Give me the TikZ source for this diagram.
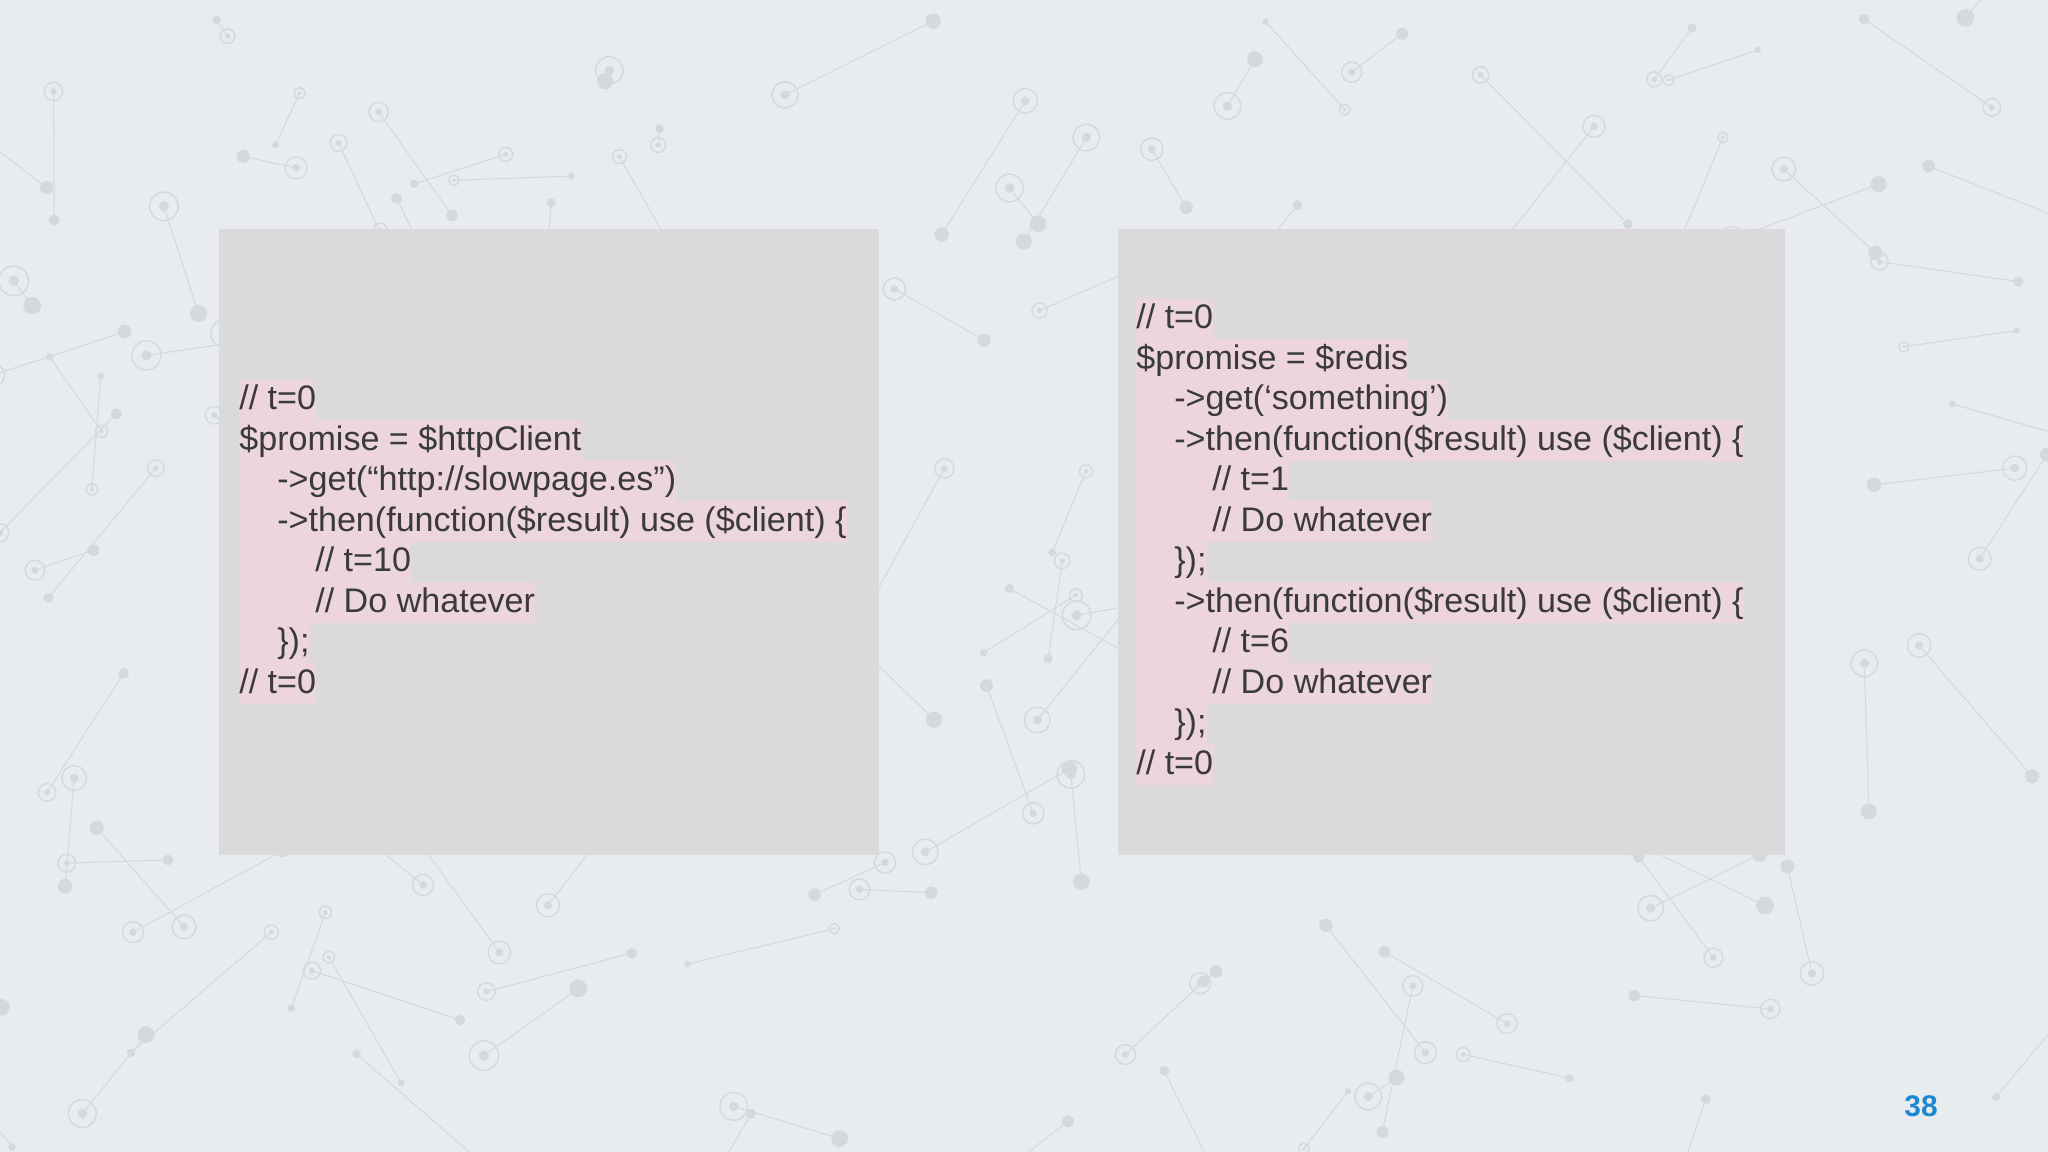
\documentclass[tikz,border=0pt]{standalone}
\usepackage{fontspec}
\setmainfont{Liberation Sans}
\definecolor{bgc}{HTML}{E8ECEE}
\definecolor{netc}{HTML}{D3D9DC}
\definecolor{boxc}{HTML}{DBD9DB}
\definecolor{hl}{HTML}{ECD5DD}
\definecolor{txt}{HTML}{3A3A3A}
\definecolor{pgc}{HTML}{1E88D0}
\begin{document}
\begin{tikzpicture}[x=0.02cm,y=-0.02cm,
  codeline/.style={anchor=west,fill=hl,inner sep=0pt,text=txt,
    font=\fontsize{19.4}{23}\selectfont,text height=0.6cm,text depth=0.21cm},
  codebox/.style={fill=boxc,draw=none}]
\fill[bgc] (0,0) rectangle (2048,1152);
\useasboundingbox (0,0) rectangle (2048,1152);
\pgfmathsetseed{11}
\foreach \i in {1,...,140}{
  \pgfmathsetmacro\xa{rnd*2048}
  \pgfmathsetmacro\ya{rnd*1152}
  \pgfmathsetmacro\xb{\xa+(rnd-0.5)*300}
  \pgfmathsetmacro\yb{\ya+(rnd-0.5)*300}
  \pgfmathsetmacro\r{5+rnd*10}
  \draw[netc,line width=0.6pt] (\xa,\ya) -- (\xb,\yb);
  \fill[netc] (\xa,\ya) circle (\r*0.6);
  \draw[netc,line width=0.8pt] (\xb,\yb) circle (\r);
  \fill[netc] (\xb,\yb) circle (\r*0.35);
}
\node[codebox,minimum width=660*0.02cm,minimum height=626*0.02cm,anchor=north west,inner sep=0pt] (lbox) at (219,229) {};
\node[codebox,minimum width=667*0.02cm,minimum height=626*0.02cm,anchor=north west,inner sep=0pt] (rbox) at (1118,229) {};
% left code
\def\ind{\hspace*{0.76cm}}
\node[codeline] (l1) at (239,400) {// t=0};
\node[codeline] (l2) at (239,440.5) {\$promise = \$httpClient};
\node[codeline] (l3) at (239,481) {\ind->get(“http://slowpage.es”)};
\node[codeline] (l4) at (239,521.5) {\ind->then(function(\$result) use (\$client) \{};
\node[codeline] (l5) at (239,562) {\ind\ind// t=10};
\node[codeline] (l6) at (239,602.5) {\ind\ind// Do whatever};
\node[codeline] (l7) at (239,643) {\ind\});};
\node[codeline] (l8) at (239,683.5) {// t=0};
% right code
\node[codeline] (r1) at (1136,319) {// t=0};
\node[codeline] (r2) at (1136,359.5) {\$promise = \$redis};
\node[codeline] (r3) at (1136,400) {\ind->get(‘something’)};
\node[codeline] (r4) at (1136,440.5) {\ind->then(function(\$result) use (\$client) \{};
\node[codeline] (r5) at (1136,481) {\ind\ind// t=1};
\node[codeline] (r6) at (1136,521.5) {\ind\ind// Do whatever};
\node[codeline] (r7) at (1136,562) {\ind\});};
\node[codeline] (r8) at (1136,602.5) {\ind->then(function(\$result) use (\$client) \{};
\node[codeline] (r9) at (1136,643) {\ind\ind// t=6};
\node[codeline] (r10) at (1136,683.5) {\ind\ind// Do whatever};
\node[codeline] (r11) at (1136,724) {\ind\});};
\node[codeline] (r12) at (1136,764.5) {// t=0};
\node[text=pgc,font=\fontsize{17}{20}\selectfont\bfseries] (pg) at (1921,1106) {38};
\end{tikzpicture}
\end{document}
